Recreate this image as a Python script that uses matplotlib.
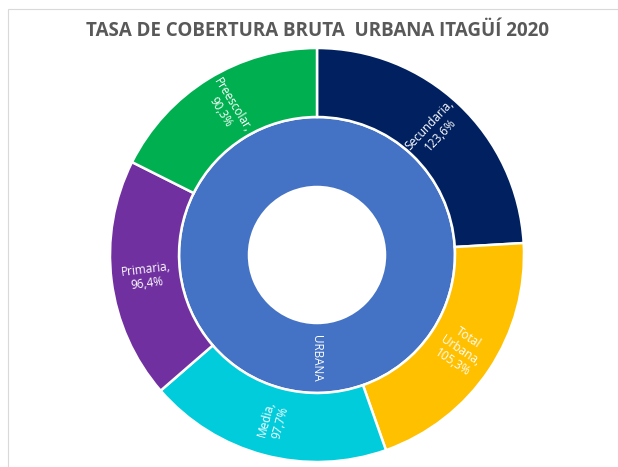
import matplotlib
matplotlib.use("Agg")
import matplotlib.pyplot as plt
from matplotlib.patches import Rectangle
import numpy as np

title = "TASA DE COBERTURA BRUTA  URBANA ITAGÜÍ 2020"
inner_label = "URBANA"
categories = ["Secundaria", "Total\nUrbana", "Media", "Primaria", "Preescolar"]
values = [123.6, 105.3, 97.7, 96.4, 90.3]
value_labels = ["123,6%", "105,3%", "97,7%", "96,4%", "90,3%"]
colors = ["#002060", "#FFC000", "#00CCDB", "#7030A0", "#00B050"]
inner_color = "#4472C4"

W, H = 618, 467
fig = plt.figure(figsize=(W / 100, H / 100), dpi=100)
fig.patch.set_facecolor("white")

# faint chart border
fig.add_artist(Rectangle((8 / W, -0.1), 1.2, (H - 9) / H + 0.1, transform=fig.transFigure,
                         fill=False, edgecolor="#D9D9D9", linewidth=0.8))

cx, cy, R = 317, H - 255, 207
ax = fig.add_axes([(cx - R) / W, (cy - R) / H, 2 * R / W, 2 * R / H])
ax.axis("off")

r_mid = 138 / 207
r_hole = 68 / 207

# inner ring
ax.pie([1], radius=r_mid, colors=[inner_color], startangle=90, counterclock=False,
       wedgeprops=dict(width=r_mid - r_hole, edgecolor="white", linewidth=1.8))
# outer ring
wedges, _ = ax.pie(values, radius=1.0, colors=colors, startangle=90, counterclock=False,
                   wedgeprops=dict(width=1.0 - r_mid, edgecolor="white", linewidth=1.8))
ax.set_xlim(-1, 1)
ax.set_ylim(-1, 1)
ax.set_aspect("equal")

lab_font = ["Open Sans", "DejaVu Sans"]
for w, cat, vl in zip(wedges, categories, value_labels):
    ang = (w.theta1 + w.theta2) / 2.0
    rot = ((ang + 90) % 180) - 90
    r = 0.83
    x, y = r * np.cos(np.radians(ang)), r * np.sin(np.radians(ang))
    ax.text(x, y, f"{cat},\n{vl}", ha="center", va="center", rotation=rot,
            rotation_mode="anchor", color="white", fontsize=8.5, family=lab_font,
            linespacing=1.15)

r_in = (r_mid + r_hole) / 2
ax.text(0, -r_in, inner_label, ha="center", va="center", rotation=-90,
        rotation_mode="anchor", color="white", fontsize=8.5, family=lab_font)

fig.text(318 / W, 1 - 31 / H, title, ha="center", va="center", fontsize=13.5,
         fontweight="bold", color="#595959", family=["Open Sans", "DejaVu Sans"])

fig.savefig("out.png", dpi=100, facecolor="white")
